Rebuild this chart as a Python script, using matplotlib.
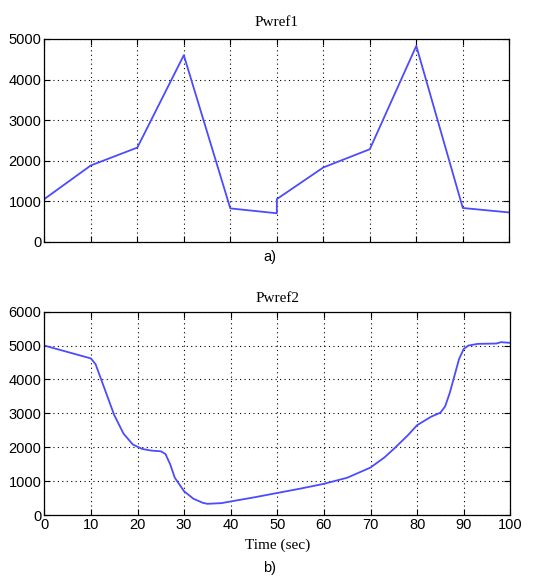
import numpy as np
import matplotlib.pyplot as plt

# Pwref1 (piecewise linear, with a step at t=50)
t1 = [0, 10, 20, 30, 40, 50, 50.01, 60, 70, 80, 90, 100]
p1 = [1050, 1880, 2320, 4600, 820, 700, 1050, 1830, 2280, 4830, 830, 720]

# Pwref2 (smooth profile)
t2 = [0, 10, 11, 13, 15, 17, 19, 21, 23, 25, 26, 27, 28, 30, 32, 34, 35, 38, 40,
      45, 50, 55, 60, 65, 70, 73, 75, 78, 80, 83, 85, 86, 87, 88, 89, 90, 91,
      93, 97, 98, 100]
p2 = [5000, 4620, 4450, 3700, 2950, 2400, 2080, 1950, 1900, 1880, 1800, 1500,
      1100, 700, 480, 360, 330, 350, 400, 520, 650, 780, 920, 1100, 1400, 1700,
      1950, 2350, 2650, 2900, 3020, 3200, 3600, 4100, 4600, 4900, 5000, 5050,
      5060, 5100, 5080]

line_color = '#4b4bff'
tick_font = 'Liberation Sans'
title_font = 'Liberation Serif'

fig = plt.figure(figsize=(5.56, 5.76), dpi=100)
ax1 = fig.add_axes([0.0797, 0.5805, 0.8363, 0.3518])
ax2 = fig.add_axes([0.0797, 0.1059, 0.8381, 0.3530])

for ax in (ax1, ax2):
    ax.set_xlim(0, 100)
    ax.set_xticks(np.arange(0, 101, 10))
    ax.grid(True, color='black', linestyle=(0, (1, 3)), linewidth=0.8)
    ax.tick_params(direction='in', top=True, right=True, length=4,
                   labelsize=10.5, pad=2)
    for s in ax.spines.values():
        s.set_linewidth(0.9)

ax1.plot(t1, p1, color=line_color, linewidth=1.3)
ax1.set_ylim(0, 5000)
ax1.set_yticks(np.arange(0, 5001, 1000))
ax1.set_xticklabels([])
ax1.set_title('Pwref1', family=title_font, fontsize=11, pad=9)
for lbl in ax1.get_yticklabels():
    lbl.set_family(tick_font)

ax2.plot(t2, p2, color=line_color, linewidth=1.3)
ax2.set_ylim(0, 6000)
ax2.set_yticks(np.arange(0, 6001, 1000))
ax2.set_title('Pwref2', family=title_font, fontsize=11, pad=7)
ax2.set_xlabel('Time (sec)', family=title_font, fontsize=11, labelpad=5)
for lbl in ax2.get_xticklabels() + ax2.get_yticklabels():
    lbl.set_family(tick_font)

fig.text(0.485, 0.553, 'a)', family=tick_font, fontsize=10.5, ha='center', va='center')
fig.text(0.485, 0.014, 'b)', family=tick_font, fontsize=10.5, ha='center', va='center')

fig.savefig('out.png', dpi=100)
